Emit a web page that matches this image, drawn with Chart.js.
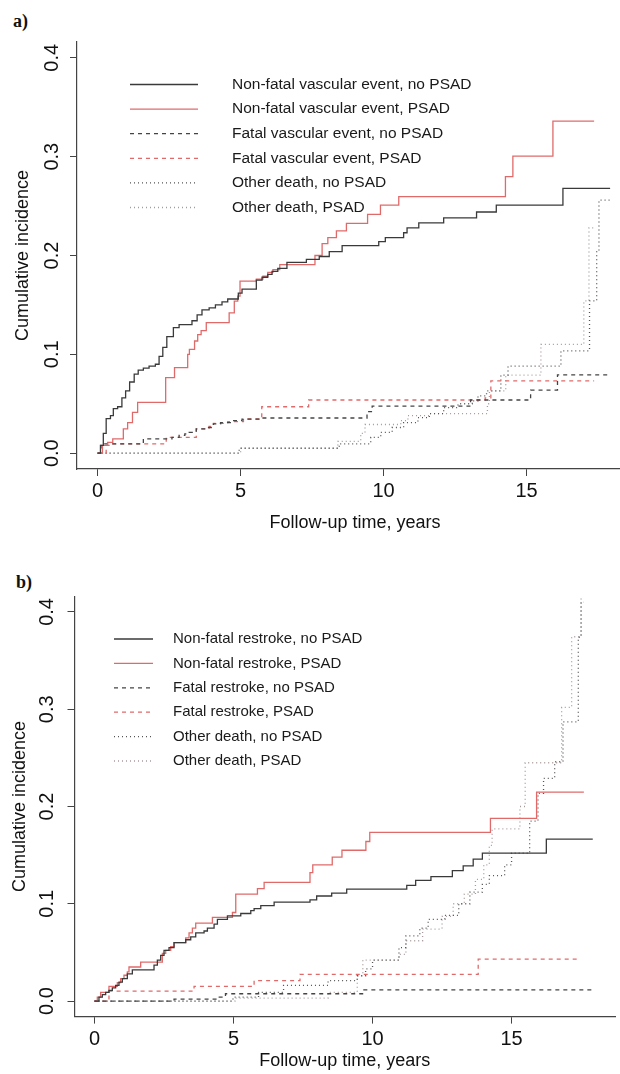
<!DOCTYPE html>
<html>
<head>
<meta charset="utf-8">
<script src="https://cdn.jsdelivr.net/npm/chart.js@4.4.0/dist/chart.umd.min.js"></script>
<style>
  html, body { margin:0; padding:0; background:#fff; width:620px; height:1074px; overflow:hidden; }
  canvas { position:absolute; left:0; }
  #chartA { top:0; }
  #chartB { top:545px; }
  .tag { position:absolute; font:bold 18px "Liberation Serif", "Times New Roman", serif; color:#111; }
</style>
</head>
<body>
<div class="tag" style="left:13px; top:11px;">a)</div>
<div class="tag" style="left:16px; top:572px;">b)</div>
<canvas id="chartA" width="640" height="540"></canvas>
<canvas id="chartB" width="640" height="529"></canvas>
<script>
// axis ticks (both panels)
const xTicks = [0, 5, 10, 15];
const yTicks = [0, 0.1, 0.2, 0.3, 0.4];

const labelsA = ["Non-fatal vascular event, no PSAD", "Non-fatal vascular event, PSAD",
  "Fatal vascular event, no PSAD", "Fatal vascular event, PSAD",
  "Other death, no PSAD", "Other death, PSAD"];
const labelsB = ["Non-fatal restroke, no PSAD", "Non-fatal restroke, PSAD",
  "Fatal restroke, no PSAD", "Fatal restroke, PSAD",
  "Other death, no PSAD", "Other death, PSAD"];

// panel a: [years, cumulative incidence], step changes
const aNonFatalNo = [[0,0],[0.1,0.008],[0.2,0.02],[0.3,0.035],[0.45,0.038],[0.55,0.045],[0.7,0.047],[0.85,0.056],[0.98,0.063],[1.12,0.072],[1.28,0.08],[1.42,0.084],[1.6,0.086],[1.8,0.088],[2.02,0.09],[2.15,0.098],[2.28,0.107],[2.42,0.118],[2.65,0.127],[2.85,0.13],[3.3,0.134],[3.48,0.14],[3.65,0.145],[3.9,0.147],[4.12,0.15],[4.35,0.153],[4.55,0.156],[4.92,0.162],[5.05,0.166],[5.55,0.175],[5.75,0.178],[5.95,0.181],[6.1,0.184],[6.3,0.187],[6.62,0.193],[7.3,0.196],[7.75,0.199],[8.1,0.204],[8.55,0.21],[9.83,0.214],[10.06,0.218],[10.7,0.223],[10.82,0.228],[11.23,0.233],[12.1,0.238],[13.25,0.244],[13.94,0.251],[16.27,0.268],[17.92,0.268]];
const aNonFatalPsad = [[0,0],[0.17,0.008],[0.35,0.011],[0.53,0.0145],[0.9,0.0246],[1.05,0.031],[1.22,0.0413],[1.4,0.0514],[2.38,0.0765],[2.69,0.0866],[3.15,0.1],[3.21,0.105],[3.39,0.1135],[3.5,0.12],[3.62,0.124],[3.8,0.132],[4.6,0.142],[4.78,0.1538],[4.9,0.159],[4.98,0.174],[5.55,0.176],[5.78,0.179],[5.95,0.183],[6.13,0.1857],[6.37,0.1907],[7.6,0.2],[7.85,0.212],[8.05,0.218],[8.35,0.225],[8.7,0.2326],[9.44,0.2417],[9.89,0.251],[10.53,0.2595],[14.26,0.2797],[14.52,0.3005],[15.92,0.336],[17.36,0.336]];
const aFatalNo = [[0,0],[0.12,0.008],[0.23,0.0095],[1.6,0.0145],[2.6,0.016],[2.85,0.018],[3.05,0.0195],[3.2,0.021],[3.45,0.0246],[3.85,0.026],[4.05,0.0296],[4.3,0.031],[4.7,0.033],[5.05,0.0345],[5.7,0.0356],[9.42,0.042],[9.6,0.0477],[13.04,0.0538],[15.14,0.0638],[16.08,0.0793],[17.92,0.0793]];
const aFatalPsad = [[0,0],[0.3,0.008],[0.5,0.0095],[2.4,0.016],[3.45,0.0246],[3.9,0.027],[4.05,0.0302],[4.55,0.032],[5.1,0.0346],[5.74,0.047],[7.38,0.0538],[13.55,0.056],[13.75,0.0732],[17.36,0.0732]];
const aOtherNo = [[0,0],[4.95,0.005],[8.45,0.0095],[9.55,0.016],[9.9,0.021],[10.3,0.026],[10.7,0.031],[11.2,0.036],[11.6,0.04],[12.1,0.046],[12.6,0.05],[13.1,0.053],[13.3,0.058],[13.6,0.063],[14.1,0.079],[14.35,0.088],[16.2,0.1035],[17.2,0.154],[17.45,0.205],[17.53,0.256],[17.92,0.256]];
const aOtherPsad = [[0,0],[5.0,0.005],[8.4,0.012],[9.2,0.02],[9.35,0.029],[10.6,0.033],[10.85,0.038],[11.6,0.04],[13.63,0.05],[13.7,0.063],[14.27,0.079],[15.5,0.11],[17.0,0.154],[17.18,0.228],[17.36,0.228]];

// panel b
const bNonFatalNo = [[0,0],[0.16,0.004],[0.28,0.0066],[0.4,0.009],[0.52,0.011],[0.64,0.0136],[0.76,0.016],[0.88,0.0195],[1.0,0.023],[1.18,0.028],[1.36,0.032],[2.14,0.037],[2.26,0.042],[2.38,0.047],[2.5,0.052],[2.68,0.055],[2.86,0.06],[3.28,0.063],[3.46,0.066],[3.64,0.07],[3.94,0.072],[4.06,0.075],[4.3,0.079],[4.42,0.084],[4.78,0.0876],[5.26,0.09],[5.62,0.093],[5.74,0.095],[5.98,0.098],[6.46,0.1016],[7.75,0.104],[7.99,0.108],[8.53,0.111],[9.07,0.115],[11.23,0.119],[11.55,0.124],[12.1,0.128],[12.87,0.134],[13.26,0.139],[13.62,0.146],[13.95,0.152],[16.25,0.1665],[17.92,0.1665]];
const bNonFatalPsad = [[0,0],[0.1,0.004],[0.22,0.009],[0.52,0.015],[0.82,0.019],[0.94,0.023],[1.06,0.0265],[1.18,0.03],[1.24,0.035],[1.66,0.04],[2.44,0.049],[2.56,0.052],[2.74,0.056],[2.86,0.06],[3.28,0.065],[3.4,0.07],[3.52,0.075],[3.64,0.08],[4.24,0.086],[4.96,0.091],[5.08,0.11],[5.86,0.1155],[6.1,0.122],[7.75,0.132],[7.85,0.14],[8.55,0.148],[8.9,0.155],[9.76,0.164],[9.9,0.1735],[14.24,0.1877],[15.9,0.2147],[17.6,0.2147]];
const bFatalNo = [[0,0],[2.86,0.002],[4.42,0.004],[4.71,0.0075],[9.69,0.0115],[17.92,0.0115]];
const bFatalPsad = [[0,0],[0.52,0.0102],[3.58,0.015],[5.74,0.021],[7.39,0.0275],[13.8,0.043],[17.48,0.043]];
const bOtherNo = [[0,0],[4.98,0.004],[5.9,0.009],[6.8,0.016],[8.4,0.021],[9.45,0.026],[9.75,0.033],[10.0,0.042],[10.95,0.055],[11.2,0.067],[11.7,0.075],[12.0,0.084],[12.6,0.088],[13.1,0.1],[13.5,0.112],[13.95,0.12],[14.2,0.129],[14.75,0.14],[15.0,0.152],[15.65,0.185],[15.95,0.2135],[16.15,0.229],[16.55,0.246],[16.85,0.287],[17.4,0.374],[17.5,0.41],[17.6,0.41]];
const bOtherPsad = [[0,0],[5.05,0.003],[8.4,0.009],[9.45,0.026],[9.65,0.042],[10.95,0.048],[11.2,0.062],[11.8,0.074],[12.5,0.087],[12.9,0.1],[13.3,0.11],[13.7,0.125],[14.0,0.14],[14.2,0.16],[14.3,0.177],[15.3,0.2],[15.49,0.245],[16.8,0.302],[17.16,0.3745],[17.5,0.416]];

const RED = '#e06a6a', DARK = '#3a3a3a';
const lineStyles = [
  {color: DARK, dash: []},
  {color: RED, dash: []},
  {color: '#444', dash: [4, 4]},
  {color: RED, dash: [4, 4]},
  {color: '#555', dash: [1, 3]},
  {color: '#a89a9a', dash: [1, 3]}
];

const FONT = '"Liberation Sans", Arial, Helvetica, sans-serif';

// R style legend drawn from the dataset styles
const rLegend = {
  id: 'rLegend',
  afterDraw(chart, args, o) {
    const c = chart.ctx;
    c.save();
    chart.data.datasets.forEach((d, i) => {
      const y = o.y0 + i * o.dy;
      c.strokeStyle = d.borderColor;
      c.lineWidth = d.borderWidth;
      c.setLineDash(d.borderDash || []);
      c.beginPath(); c.moveTo(o.x0, y); c.lineTo(o.x1, y); c.stroke();
      c.setLineDash([]);
      c.fillStyle = '#1a1a1a';
      c.font = o.size + 'px ' + FONT;
      c.textBaseline = 'middle';
      c.textAlign = 'left';
      c.fillText(d.label, o.tx, y);
    });
    c.restore();
  }
};

function drawPanel(id, labels, series, box, leg) {
  const ctx = document.getElementById(id).getContext('2d');
  const W = ctx.canvas.width, H = ctx.canvas.height;
  const axisCol = '#444';
  return new Chart(ctx, {
    type: 'line',
    data: {
      datasets: series.map((s, i) => ({
        label: labels[i],
        data: s.map(p => ({x: p[0], y: p[1]})),
        borderColor: lineStyles[i].color,
        borderDash: lineStyles[i].dash,
        borderWidth: 1.3,
        pointRadius: 0,
        stepped: 'before',
        fill: false
      }))
    },
    options: {
      responsive: false,
      animation: false,
      layout: {padding: {top: box.top, right: W - box.right, left: 0, bottom: 0}},
      plugins: {legend: {display: false}, tooltip: {enabled: false}, rLegend: leg},
      scales: {
        x: {
          type: 'linear', min: -0.72, max: 18.72,
          afterFit: s => { s.height = H - box.bottom; },
          afterBuildTicks: s => { s.ticks = xTicks.map(v => ({value: v})); },
          ticks: {autoSkip: false, maxRotation: 0, minRotation: 0, padding: box.xPad, color: '#111',
                  font: {family: FONT, size: 20}, callback: v => String(v)},
          grid: {drawOnChartArea: false, drawTicks: true, tickLength: 7, color: axisCol, lineWidth: 1},
          border: {display: true, color: axisCol, width: 1.2},
          title: {display: true, text: 'Follow-up time, years', color: '#111',
                  font: {family: FONT, size: 18}, padding: {top: 0, bottom: box.xTitlePad}}
        },
        y: {
          type: 'linear', min: -0.016, max: 0.416,
          afterFit: s => { s.width = box.left; },
          afterBuildTicks: s => { s.ticks = yTicks.map(v => ({value: v})); },
          ticks: {autoSkip: false, minRotation: 90, maxRotation: 90, crossAlign: 'center', padding: box.yPad,
                  color: '#111', font: {family: FONT, size: 20}, callback: v => v.toFixed(1)},
          grid: {drawOnChartArea: false, drawTicks: true, tickLength: 7, color: axisCol, lineWidth: 1},
          border: {display: true, color: axisCol, width: 1.2},
          title: {display: true, text: 'Cumulative incidence', color: '#111',
                  font: {family: FONT, size: 18}, padding: {top: box.yTitlePad, bottom: 0}}
        }
      }
    },
    plugins: [rLegend]
  });
}

drawPanel('chartA', labelsA,
  [aNonFatalNo, aNonFatalPsad, aFatalNo, aFatalPsad, aOtherNo, aOtherPsad],
  {left: 77, right: 633, top: 42, bottom: 469, xPad: 3, yPad: 4, xTitlePad: 6, yTitlePad: 12},
  {x0: 130, x1: 198, tx: 232, y0: 84.5, dy: 24.6, size: 15.5});

drawPanel('chartB', labelsB,
  [bNonFatalNo, bNonFatalPsad, bFatalNo, bFatalPsad, bOtherNo, bOtherPsad],
  {left: 74.5, right: 615, top: 51.4, bottom: 471.6, xPad: 4, yPad: 6, xTitlePad: 2, yTitlePad: 9},
  {x0: 114, x1: 153, tx: 173, y0: 94, dy: 24.4, size: 15});
</script>
</body>
</html>
